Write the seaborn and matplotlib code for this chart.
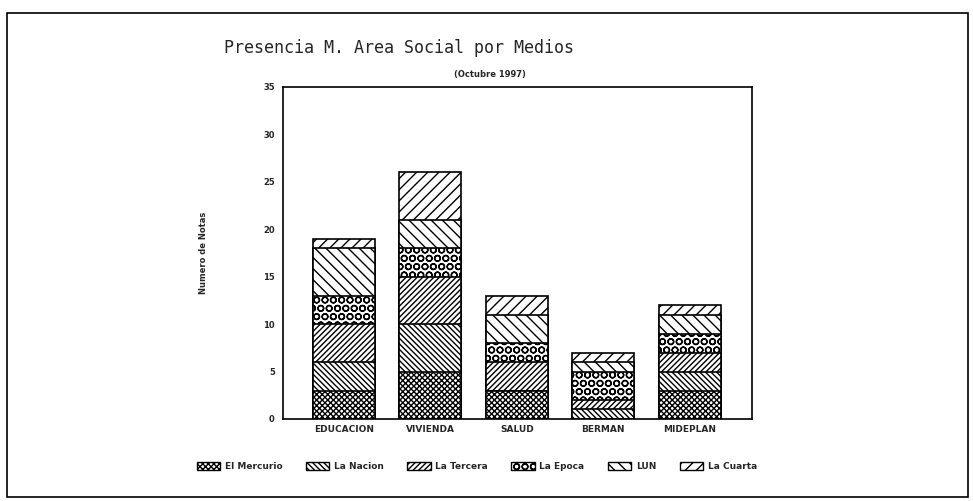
import matplotlib
matplotlib.use("Agg")
import matplotlib.pyplot as plt
from matplotlib.patches import Patch, Rectangle
import numpy as np
import pandas as pd
import seaborn as sns

categorias = ["EDUCACION", "VIVIENDA", "SALUD", "BERMAN", "MIDEPLAN"]
medios = ["El Mercurio", "La Nacion", "La Tercera", "La Epoca", "LUN", "La Cuarta"]

el_mercurio = [3, 5, 3, 0, 3]
la_nacion = [3, 5, 0, 1, 2]
la_tercera = [4, 5, 3, 1, 2]
la_epoca = [3, 3, 2, 3, 2]
lun = [5, 3, 3, 1, 2]
la_cuarta = [1, 5, 2, 1, 1]

y_ticks = [0, 5, 10, 15, 20, 25, 30, 35]

hatches = ["xxxxxx", "\\\\\\\\\\\\", "//////", "OO", "\\\\\\", "///"]

sns.set_style("white")
plt.rcParams["font.family"] = ["DejaVu Sans"]
plt.rcParams["hatch.linewidth"] = 1.0

series = [el_mercurio, la_nacion, la_tercera, la_epoca, lun, la_cuarta]
cum = np.cumsum(np.array(series), axis=0)

fig = plt.figure(figsize=(9.73, 5.01), dpi=100)
ax = fig.add_axes([0.291, 0.1637, 0.482, 0.663])

# draw cumulative totals from the top down so each layer covers the next
for i in range(len(medios) - 1, -1, -1):
    df = pd.DataFrame({"cat": categorias, "val": cum[i]})
    sns.barplot(data=df, x="cat", y="val", ax=ax, color="white",
                edgecolor="black", linewidth=1.2, hatch=hatches[i],
                width=0.72, saturation=1)

ax.set_xlim(-0.70, 4.72)
ax.set_ylim(0, 35)
ax.set_yticks(y_ticks)
ax.set_yticklabels(y_ticks, fontsize=6, fontweight="bold")
ax.set_xticks(range(len(categorias)))
ax.set_xticklabels(categorias, fontsize=6.5, fontweight="bold")
ax.tick_params(axis="y", direction="in", length=3, pad=6)
ax.tick_params(axis="x", length=0, pad=4)
ax.set_xlabel("")
ax.set_ylabel("Numero de Notas", fontsize=6, fontweight="bold", labelpad=40)
for s in ax.spines.values():
    s.set_color("black")
    s.set_linewidth(1.2)

fig.text(0.41, 0.905, "Presencia M. Area Social por Medios",
         fontsize=12, ha="center", va="center", family="DejaVu Sans Mono")
fig.text(0.504, 0.851, "(Octubre 1997)", fontsize=6, fontweight="bold",
         ha="center", va="center")

handles = [Patch(facecolor="white", edgecolor="black", hatch=h, label=m)
           for m, h in zip(medios, hatches)]
fig.legend(handles=handles, loc="center", bbox_to_anchor=(0.49, 0.068),
           ncol=6, frameon=False, handlelength=2.6,
           handleheight=1.0, columnspacing=2.6, handletextpad=0.5,
           prop={"weight": "bold", "size": 6.5})

fig.patches.append(Rectangle((7 / 973, 4 / 501), 961 / 973, 484 / 501,
                             transform=fig.transFigure, fill=False,
                             edgecolor="black", linewidth=1.2))

fig.savefig("out.png", dpi=100, facecolor="white")
